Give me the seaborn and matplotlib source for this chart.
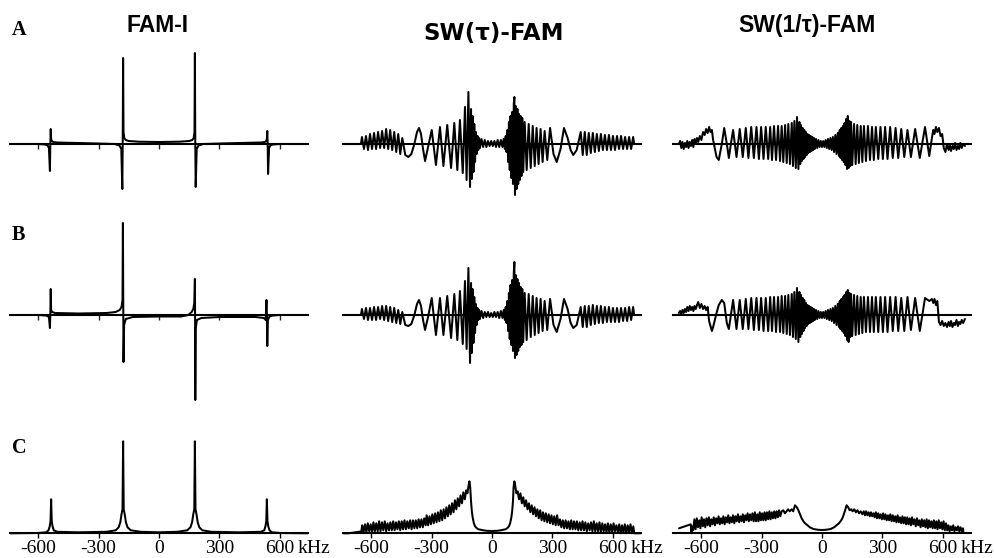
import numpy as np
import pandas as pd
import matplotlib
matplotlib.use("Agg")
import matplotlib.pyplot as plt
import seaborn as sns

# ---------------- data (kHz, amplitude in arbitrary units) ----------------
titles = ["FAM-I", "SW(\u03c4)-FAM", "SW(1/\u03c4)-FAM"]
row_letters = ["A", "B", "C"]
tick_values = [-600, -300, 0, 300, 600]
tick_labels = ["-600", "-300", "0", "300", "600"]

# FAM-I, row A
fam_a_khz = [-740, -600, -565, -552, -546, -541, -539, -537, -535, -532, -525, -505, -400, -300,
             -220, -196, -187, -182, -180, -178, -176, -172, -165, -150, -100, 0, 100, 150, 165,
             172, 176, 178, 180, 182, 187, 196, 220, 300, 400, 505, 525, 532, 535, 537, 539, 541,
             546, 552, 565, 600, 740]
fam_a_amp = [0, 0, -0.5, -1.5, -4, -27, 0, 15, 5, 3, 2, 1.5, 1, 0.5,
             0, -1.5, -5, -45, 0, 86, 12, 6, 4, 3, 2.3, 2, 2.3, 3, 4,
             6, 12, 91, 0, -43, -5, -1.5, 0, 0.5, 1, 1.5, 2, 3, 5, 13, 0, -30,
             -4, -1.5, -0.5, 0, 0]
# FAM-I, row B
fam_b_khz = [-740, -600, -560, -546, -541, -539, -537, -535, -530, -515, -400, -260, -215, -195,
             -186, -181, -179, -177, -176, -173, -165, -130, 0, 110, 145, 162, 170, 175, 178,
             179, 180, 182, 188, 210, 300, 480, 520, 529, 533, 535, 537, 540, 548, 565, 600, 740]
fam_b_amp = [0, 0, -0.5, -2, -13, 0, 26, 5, 3, 2, 1.5, 2, 3, 5,
             8, 15, 92, 0, -47, -10, -4, -2, -1.5, -1.5, 0, 3, 6, 12, 36,
             0, -85, -14, -5, -3, -2, -2, -3, -5, 15, 0, -31, -5, -1.5, -0.5, 0, 0]
# FAM-I, row C
fam_c_khz = [-740, -600, -560, -548, -542, -538, -535, -532, -528, -522, -505, -400, -260, -215,
             -200, -192, -186, -181, -178, -175, -170, -164, -156, -140, -90, 0, 90, 140, 156,
             164, 170, 175, 178, 181, 186, 192, 200, 215, 260, 400, 505, 522, 528, 532, 535,
             538, 542, 548, 560, 600, 740]
fam_c_amp = [0, 0.3, 1, 3, 7, 12, 34, 12, 7, 3, 1.5, 1, 1.5, 3,
             6, 11, 19, 24, 92, 24, 19, 11, 6, 3, 1.5, 1, 1.5, 3, 6,
             11, 19, 24, 92, 24, 19, 11, 6, 3, 1.5, 1, 1.5, 3, 7, 12, 34,
             12, 7, 3, 1, 0.3, 0]

# SW(tau)-FAM, rows A and B (shared frequency points)
swt_khz = [-740, -650, -645, -635, -625, -615, -605, -595, -585, -575, -565, -555, -545, -535,
           -525, -515, -505, -495, -485, -475, -465, -455, -445, -430, -415, -400, -385, -372,
           -362, -352, -342, -332, -316, -299, -278, -258, -241, -222, -203, -187, -172, -159,
           -145, -134, -126, -117, -109, -104, -100, -96, -92, -88, -84, -80, -76, -72, -68,
           -64, -60, -52, -44, -36, -28, -20, -12, -4, 4, 12, 20, 28, 36, 44, 52, 58, 64, 68,
           72, 76, 80, 84, 88, 92, 96, 100, 104, 108, 111, 114, 118, 122, 126, 130, 134, 138,
           142, 146, 150, 155, 162, 172, 182, 192, 202, 212, 221, 231, 241, 251, 261, 274, 288,
           305, 321, 340, 357, 375, 390, 403, 420, 440, 450, 460, 470, 480, 490, 500, 510, 520,
           530, 540, 550, 560, 570, 580, 590, 600, 610, 620, 630, 640, 650, 660, 670, 680, 690,
           700, 705, 740]
swt_a_amp = [0, 0, 7, -5, 8, -6, 10, -5, 11, -5, 12, -4, 13, -4,
             15, -5, 14, -6, 12, -8, 10, -10, 6, -11, -13, -10, 0, 12,
             16, 10, -5, -17, -2, 14, -21, 17, -22, 19, -24, 21, -26, 24,
             -29, 37, -36, 52, -43, 35, -35, 28, -28, 20, -18, 12, -10, 8, -6,
             6, -4, 5, -3, 4, -3, 3, -2, 3, -2, 3, -3, 4, -3, 4, -3, 5, -5, 8,
             -8, 14, -18, 22, -26, 28, -34, 32, -40, 40, 47, -51, 38, -45, 35, -40, 30, -36,
             28, -32, 26, -28, 22, -26, 20, -24, 18, -22, 16, -20, 15, -18, 13, -16, 16,
             -10, -18, -5, 16, 6, -6, -11, -6, 12, -11, 12, -11, 11, -9, 11, -8, 10,
             -7, 10, -6, 9, -6, 9, -6, 8, -6, 8, -5, 8, -5, 7, -5, 7, -5,
             7, 0, 0]
swt_b_amp = [0, 0, 6, -4, 7, -5, 7, -5, 8, -5, 8, -4, 9, -5,
             9, -6, 8, -7, 7, -8, 5, -9, 3, -10, -11, -9, 0, 11,
             15, 9, -5, -15, -1, 17, -20, 17, -20, 19, -23, 21, -25, 24,
             -29, 34, -34, 47, -48, 32, -38, 26, -28, 18, -18, 11, -10, 7, -5,
             5, -4, 4, -3, 3, -2, 3, -2, 2, -2, 3, -2, 3, -3, 4, -3, 5, -5, 8,
             -8, 14, -16, 22, -24, 30, -30, 35, -36, 42, 53, -43, 40, -40, 36, -36, 32, -32,
             28, -30, 26, -27, 22, -25, 21, -22, 19, -20, 17, -18, 16, -16, 14, -15, 16,
             -10, -17, -4, 16, 6, -8, -13, -10, 8, -12, 9, -12, 9, -10, 10, -9, 9,
             -8, 9, -8, 8, -7, 8, -7, 7, -7, 7, -7, 7, -6, 7, -6, 8, -5,
             8, 0, 0]

# SW(1/tau)-FAM, rows A and B (shared frequency points)
swi_khz = [-710, -704, -698, -692, -686, -680, -674, -668, -662, -656, -650, -644, -638, -632,
           -626, -620, -614, -606, -598, -590, -582, -575, -567, -560, -553, -546, -540, -523,
           -512, -497, -485, -472, -462, -452, -441, -424, -408, -393, -378, -365, -351, -338,
           -325, -313, -302, -290, -279, -267, -257, -248, -238, -228, -218, -208, -200, -192,
           -183, -175, -167, -159, -150, -144, -137, -130, -124, -117, -112, -108, -104, -100,
           -96, -92, -88, -84, -80, -76, -72, -68, -64, -60, -56, -52, -48, -44, -40, -36, -30,
           -24, -18, -12, -6, 0, 6, 12, 18, 24, 30, 36, 42, 48, 54, 60, 66, 72, 78, 84, 88, 92,
           96, 100, 104, 108, 112, 116, 120, 124, 128, 132, 136, 140, 144, 150, 159, 167, 175,
           183, 192, 200, 208, 218, 228, 238, 248, 257, 267, 279, 290, 302, 313, 325, 338, 351,
           365, 378, 393, 408, 424, 441, 462, 485, 511, 532, 545, 552, 558, 565, 572, 580, 588,
           596, 604, 612, 620, 628, 634, 640, 647, 654, 660, 667, 674, 680, 686, 693, 700, 709]
swi_a_amp = [0, 3, -4, 2, -5, 1, -3, 3, -4, 2, -2, 4, -3, 5,
             0, 6, 2, 8, 4, 12, 9, 15, 11, 17, 12, 14, 4, -13,
             -16, 0, 16, 0, -14, 0, 14, -13, 15, -13, 16, -14, 17, -14,
             17, -15, 17, -15, 17, -15, 17, -16, 18, -16, 18, -17, 18, -18,
             19, -19, 20, -20, 21, -22, 23, -24, 27, -25, 22, -20, 19, -17,
             16, -15, 14, -13, 12, -11, 10, -9, 9, -8, 8, -7, 7, -6, 6, -5, 5,
             -4, 4, -3, 3, -3, 3, -3, 4, -4, 5, -5, 6, -6, 7, -8, 9, -10, 11, -12, 14, -14,
             16, -16, 18, -18, 21, -21, 25, -25, 28, -24, 23, -22, 22, -21, 20, -20, 19,
             -19, 18, -18, 18, -17, 18, -16, 17, -16, 17, -15, 17, -15, 17, -15, 17, -14,
             16, -14, 15, -13, 14, -13, 15, -14, 17, -12, 6, 14, 10, 17, 12, 16, 8,
             10, -4, -8, 0, -6, -1, -7, -2, -5, 1, -6, -2, -5, 1, -4, 0, -2]
swi_b_amp = [2, 4, 1, 5, 2, 6, 3, 8, 4, 9, 5, 8, 4, 9,
             6, 10, 13, 7, 11, 6, 9, 5, 8, -6, -11, -16, -12, 2,
             10, 15, 12, -8, -14, 0, 15, -14, 15, -14, 16, -14, 17, -15,
             17, -15, 17, -16, 17, -16, 18, -16, 18, -17, 18, -17, 19, -18,
             19, -19, 20, -20, 21, -22, 23, -24, 27, -27, 23, -22, 20, -19,
             17, -16, 15, -13, 12, -11, 10, -9, 9, -8, 8, -7, 7, -6, 6, -5, 5,
             -4, 4, -3, 3, -3, 3, -3, 4, -4, 5, -5, 6, -6, 7, -8, 9, -10, 11, -12, 14, -14,
             16, -16, 18, -18, 20, -21, 23, -25, 25, -27, 22, -22, 21, -21, 20, -20, 19,
             -19, 18, -18, 18, -17, 18, -17, 18, -17, 18, -17, 18, -17, 18, -17, 18, -16,
             18, -16, 17, -16, 18, -15, 17, -16, 17, 14, 16, 12, 16, 10, 14, -7, -10,
             -6, -11, -8, -12, -7, -11, -6, -12, -8, -10, -5, -11, -7, -9, -5, -8, -4]

# SW(tau)-FAM, row C
swt_c_khz = [-740, -712, -660, -648, -644, -637, -630, -623, -616, -609, -602, -595, -588, -581,
             -574, -567, -560, -553, -546, -539, -532, -525, -518, -511, -504, -497, -490, -483,
             -476, -469, -462, -455, -448, -441, -434, -427, -420, -413, -406, -399, -392, -385,
             -378, -371, -364, -357, -350, -343, -336, -329, -324, -317, -310, -303, -296, -289,
             -282, -275, -268, -261, -254, -247, -240, -233, -226, -219, -212, -205, -198, -191,
             -184, -177, -170, -163, -156, -149, -142, -135, -128, -122, -116, -112, -108, -104,
             -100, -96, -90, -84, -75, -67, -55, -43, -25, 0, 25, 43, 55, 67, 75, 84, 90, 96, 100,
             104, 107, 111, 115, 121, 127, 134, 141, 148, 155, 162, 169, 176, 183, 190, 197, 204,
             211, 218, 225, 232, 239, 246, 253, 260, 267, 274, 281, 288, 295, 302, 309, 316, 323,
             330, 337, 344, 351, 358, 365, 372, 379, 386, 393, 400, 407, 414, 421, 428, 435, 442,
             449, 456, 463, 470, 477, 484, 491, 498, 505, 512, 519, 526, 533, 540, 547, 554, 561,
             568, 575, 582, 589, 596, 603, 610, 617, 624, 631, 638, 645, 652, 659, 666, 673, 680,
             687, 694, 701, 705, 740]
swt_c_amp = [0, 0, 1.5, 2, 8, 1, 9, 1, 10, 2, 9, 1, 11, 2,
             10, 2, 12, 2, 11, 3, 12, 2, 10, 3, 11, 3, 12, 3,
             11, 4, 12, 3, 12, 4, 13, 4, 12, 5, 13, 4, 13, 5,
             13, 5, 14, 6, 14, 6, 15, 8, 18, 8, 17, 9, 19, 10,
             20, 11, 21, 12, 23, 13, 24, 15, 26, 17, 28, 19, 30, 21,
             33, 24, 35, 27, 38, 30, 41, 34, 43, 40, 48, 52, 46, 32,
             22, 16, 10, 7, 5, 4, 3.5, 3, 2.5, 2.3, 2.5, 3, 3.5, 4, 5, 7, 10, 16, 22,
             32, 46, 52, 48, 40, 42, 34, 40, 30, 36, 27, 33, 24, 30, 21, 28, 19,
             26, 17, 24, 15, 23, 13, 21, 12, 20, 11, 19, 10, 18, 9, 17, 8, 18,
             8, 14, 6, 13, 5, 13, 5, 12, 4, 13, 4, 12, 4, 12, 3, 11, 3,
             12, 3, 11, 2, 10, 3, 11, 2, 12, 2, 10, 2, 11, 1, 10, 2, 9,
             1, 10, 1, 9, 1, 10, 2, 8, 1, 9, 0, 8, 1, 9, 0, 8, 1,
             9, 0, 7, 0, 0]

# SW(1/tau)-FAM, row C
swi_c_khz = [-709, -651, -648, -645, -639, -633, -627, -621, -615, -609, -603, -597, -591, -585,
             -579, -573, -567, -561, -555, -549, -543, -537, -531, -525, -519, -513, -507, -501,
             -495, -489, -483, -477, -471, -465, -459, -453, -447, -441, -435, -429, -423, -417,
             -411, -405, -399, -393, -387, -381, -375, -369, -363, -357, -351, -345, -339, -333,
             -327, -321, -315, -309, -303, -297, -291, -285, -279, -273, -267, -261, -255, -249,
             -243, -237, -231, -225, -219, -213, -207, -200, -192, -184, -176, -168, -160, -150,
             -143, -134, -125, -117, -109, -101, -92, -84, -72, -60, -45, -35, -18, 0, 18, 35, 45,
             60, 72, 84, 92, 101, 110, 122, 130, 137, 145, 152, 160, 168, 176, 184, 192, 200, 207,
             213, 219, 225, 231, 237, 243, 249, 255, 261, 267, 273, 279, 285, 291, 297, 303, 309,
             315, 321, 327, 333, 339, 345, 351, 357, 363, 369, 375, 381, 387, 393, 399, 405, 411,
             417, 423, 429, 435, 441, 447, 453, 459, 465, 471, 477, 483, 489, 495, 501, 507, 513,
             519, 525, 531, 537, 543, 549, 555, 561, 567, 573, 579, 585, 591, 597, 603, 609, 615,
             621, 627, 633, 639, 645, 651, 657, 663, 669, 675, 681, 687, 693, 699, 701]
swi_c_amp = [5, 9, 0, 7, 3, 14, 4, 15, 6, 13, 5, 16, 7, 14,
             6, 15, 8, 16, 7, 14, 9, 16, 8, 15, 10, 17, 9, 15,
             10, 17, 9, 16, 11, 18, 10, 16, 11, 18, 10, 17, 12, 19,
             11, 17, 12, 19, 11, 18, 13, 20, 12, 19, 13, 20, 12, 21,
             12, 19, 12, 21, 13, 20, 13, 21, 13, 21, 14, 22, 14, 21,
             15, 22, 15, 22, 16, 23, 17, 22, 23, 20, 22, 24, 22, 24,
             22, 28, 26, 23, 19, 15, 12, 10, 8, 6, 4.5, 4, 3.5, 3.3, 3.5, 4, 4.5,
             6, 8, 10, 12, 15, 20, 28, 26, 23, 24, 22, 24, 21, 23, 20, 22, 19, 22,
             18, 22, 18, 21, 17, 21, 17, 20, 16, 21, 15, 20, 15, 19, 14, 20, 14,
             19, 13, 18, 13, 19, 12, 18, 12, 17, 11, 18, 11, 16, 10, 17, 10, 16,
             9, 16, 9, 15, 8, 16, 9, 14, 7, 15, 8, 13, 6, 14, 7, 13, 6,
             14, 5, 13, 6, 12, 5, 13, 5, 12, 4, 13, 5, 11, 4, 12, 3, 10,
             3, 8, 2, 7, 3, 8, 2, 6, 3, 7, 2, 6, 2, 5, 2]

panels = {
    (0, 0): (fam_a_khz, fam_a_amp), (0, 1): (swt_khz, swt_a_amp), (0, 2): (swi_khz, swi_a_amp),
    (1, 0): (fam_b_khz, fam_b_amp), (1, 1): (swt_khz, swt_b_amp), (1, 2): (swi_khz, swi_b_amp),
    (2, 0): (fam_c_khz, fam_c_amp), (2, 1): (swt_c_khz, swt_c_amp), (2, 2): (swi_c_khz, swi_c_amp),
}

# ---------------- layout ----------------
sns.set_theme(style="white")
plt.rcParams['font.family'] = ['Liberation Serif', 'DejaVu Serif']

W, H = 995, 558
fig = plt.figure(figsize=(W / 100, H / 100), dpi=100)

col_left_px = [9.8, 342.8, 672.8]
col_width_px = 298.4
row_base_px = [144.0, 315.0, 533.3]
row_ylim = [(-100, 100), (-100, 100), (-6, 100)]

for (r, c), (xs, ys) in panels.items():
    base = row_base_px[r]
    lo, hi = row_ylim[r]
    top_px = base - hi
    bot_px = base - lo
    ax = fig.add_axes([col_left_px[c] / W, 1 - bot_px / H, col_width_px / W, (bot_px - top_px) / H])
    ax.patch.set_alpha(0)
    df = pd.DataFrame({"khz": xs, "amp": ys})
    sns.lineplot(data=df, x="khz", y="amp", ax=ax, color="black", linewidth=1.45,
                 estimator=None, sort=False, legend=False, zorder=3)
    ax.set_xlim(-740, 740)
    ax.set_ylim(lo, hi)
    ax.set_xlabel("")
    ax.set_ylabel("")
    ax.set_yticks([])
    for s in ["top", "right", "left"]:
        ax.spines[s].set_visible(False)
    ax.spines["bottom"].set_position(("data", 0))
    ax.spines["bottom"].set_linewidth(1.5)
    ax.spines["bottom"].set_color("black")
    if r == 2:
        ax.set_xticks(tick_values)
        ax.set_xticklabels(tick_labels)
        ax.tick_params(axis="x", bottom=True, direction="out", length=3.6, width=1.0,
                       pad=1, labelsize=14, colors="black")
        ax.annotate("kHz", xy=(600, 0), xycoords="data", xytext=(13, -4.6),
                    textcoords="offset points", ha="left", va="top", fontsize=14,
                    color="black")
    elif c == 0:
        ax.set_xticks(tick_values)
        ax.set_xticklabels([])
        ax.tick_params(axis="x", bottom=True, direction="out", length=3.6, width=1.0)
    else:
        ax.set_xticks([])

# titles
title_x_px = [158, 494, 807]
title_base_px = [32, 40, 32]
title_fonts = [["Liberation Sans"], ["DejaVu Sans"], ["Liberation Sans"]]
for t, xp, yp, fam in zip(titles, title_x_px, title_base_px, title_fonts):
    fig.text(xp / W, 1 - yp / H, t, ha="center", va="baseline", fontsize=16.5,
             fontweight="bold", family=fam, color="black")

# row letters
letter_base_px = [35, 240, 453]
for L, yp in zip(row_letters, letter_base_px):
    fig.text(12 / W, 1 - yp / H, L, ha="left", va="baseline", fontsize=14.5,
             fontweight="bold", family=["Liberation Serif"], color="black")

fig.savefig("out.png", dpi=100)
